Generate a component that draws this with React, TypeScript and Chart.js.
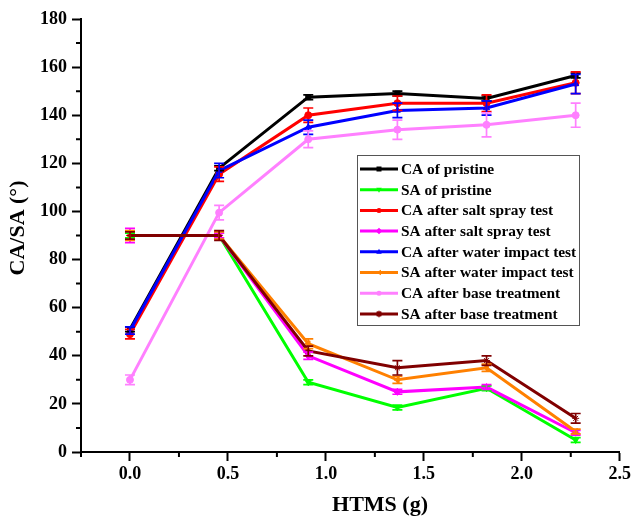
import React, { useEffect, useRef } from "react";
import { Chart, registerables } from "chart.js";

Chart.register(...registerables);

const xValues = [0, 0.455, 0.91, 1.365, 1.82, 2.275];
const xTicks = [0, 0.5, 1.0, 1.5, 2.0, 2.5];
const xMinorTicks = [-0.25, 0.25, 0.75, 1.25, 1.75, 2.25];
const yTicks = [0, 20, 40, 60, 80, 100, 120, 140, 160, 180];
const yMinorTicks = [10, 30, 50, 70, 90, 110, 130, 150, 170];

const seriesNames = [
  "CA of pristine",
  "SA of pristine",
  "CA after salt spray test",
  "SA after salt spray test",
  "CA after water impact test",
  "SA after water impact test",
  "CA after base treatment",
  "SA after base treatment",
];

const caPristine = [51, 118, 147.5, 149, 147, 156.5];
const saPristine = [90, 90, 29, 18.5, 26.5, 5];
const caSalt = [49, 115.5, 140, 145, 145, 153.5];
const saSalt = [90, 90, 40, 25, 27, 8];
const caWater = [50.5, 117, 135, 142, 143, 153];
const saWater = [90, 90, 45, 30, 35, 8.5];
const caBase = [30, 99.5, 130, 134, 136, 140];
const saBase = [90, 90, 42, 35, 38, 14];

const caPristineErr = [1, 1, 1, 1, 1, 1];
const saPristineErr = [1, 1, 1, 1, 1, 1];
const caSaltErr = [2, 3, 3, 3, 3.5, 4.5];
const saSaltErr = [3, 1, 1.5, 1, 1, 1];
const caWaterErr = [1.5, 3, 3, 3, 3, 4];
const saWaterErr = [2, 1.5, 2, 1.5, 1.5, 1];
const caBaseErr = [2, 3, 3.5, 4, 5, 5];
const saBaseErr = [1.5, 2, 2, 3, 2, 2];

const seriesValues = [caPristine, saPristine, caSalt, saSalt, caWater, saWater, caBase, saBase];
const seriesErrors = [caPristineErr, saPristineErr, caSaltErr, saSaltErr, caWaterErr, saWaterErr, caBaseErr, saBaseErr];
const seriesColors = ["#000000", "#00ff00", "#ff0000", "#ff00ff", "#0000ff", "#ff8000", "#ff80ff", "#800000"];
const seriesPointStyles = ["rect", "triangle", "circle", "rectRot", "triangle", "triangle", "circle", "star"];
const seriesRotations = [0, 180, 0, 0, 0, 270, 0, 0];

const FONT = "'Liberation Serif', 'Times New Roman', serif";

function drawMarker(ctx: CanvasRenderingContext2D, style: string, rot: number, x: number, y: number, r: number) {
  ctx.save();
  ctx.translate(x, y);
  ctx.rotate((rot * Math.PI) / 180);
  ctx.beginPath();
  if (style === "rect") {
    ctx.rect(-r, -r, 2 * r, 2 * r);
  } else if (style === "triangle") {
    ctx.moveTo(0, -r * 1.2);
    ctx.lineTo(r * 1.1, r * 0.8);
    ctx.lineTo(-r * 1.1, r * 0.8);
    ctx.closePath();
  } else if (style === "rectRot") {
    ctx.moveTo(0, -r * 1.3);
    ctx.lineTo(r * 1.3, 0);
    ctx.lineTo(0, r * 1.3);
    ctx.lineTo(-r * 1.3, 0);
    ctx.closePath();
  } else if (style === "star") {
    for (let k = 0; k < 4; k++) {
      const a = (k * Math.PI) / 4;
      ctx.moveTo(Math.cos(a) * r * 1.3, Math.sin(a) * r * 1.3);
      ctx.lineTo(-Math.cos(a) * r * 1.3, -Math.sin(a) * r * 1.3);
    }
    ctx.lineWidth = 1.5;
    ctx.stroke();
    ctx.restore();
    return;
  } else {
    ctx.arc(0, 0, r, 0, Math.PI * 2);
  }
  ctx.fill();
  ctx.restore();
}

const extrasPlugin = {
  id: "extras",
  afterDatasetsDraw(chart: any) {
    const ctx = chart.ctx;
    const xs = chart.scales.x;
    const ys = chart.scales.y;
    ctx.save();
    chart.data.datasets.forEach((ds: any, i: number) => {
      const errs = seriesErrors[i];
      ctx.strokeStyle = seriesColors[i];
      ctx.lineWidth = 1.7;
      ds.data.forEach((p: any, j: number) => {
        const px = xs.getPixelForValue(p.x);
        const yTop = ys.getPixelForValue(p.y + errs[j]);
        const yBot = ys.getPixelForValue(p.y - errs[j]);
        ctx.beginPath();
        ctx.moveTo(px, yTop);
        ctx.lineTo(px, yBot);
        ctx.moveTo(px - 5, yTop);
        ctx.lineTo(px + 5, yTop);
        ctx.moveTo(px - 5, yBot);
        ctx.lineTo(px + 5, yBot);
        ctx.stroke();
      });
    });
    ctx.restore();
  },
  afterDraw(chart: any) {
    const ctx = chart.ctx;
    const xs = chart.scales.x;
    const ys = chart.scales.y;
    const area = chart.chartArea;
    ctx.save();
    ctx.strokeStyle = "#000";
    ctx.lineWidth = 2;
    ctx.beginPath();
    yMinorTicks.forEach((v) => {
      const py = ys.getPixelForValue(v);
      ctx.moveTo(area.left - 5, py);
      ctx.lineTo(area.left, py);
    });
    xMinorTicks.forEach((v) => {
      const px = xs.getPixelForValue(v);
      ctx.moveTo(px, area.bottom);
      ctx.lineTo(px, area.bottom + 5);
    });
    ctx.stroke();

    ctx.fillStyle = "#000";
    ctx.font = `bold 22px ${FONT}`;
    ctx.textAlign = "center";
    ctx.textBaseline = "middle";
    ctx.fillText("HTMS (g)", 380, 505);
    ctx.save();
    ctx.translate(18, 228);
    ctx.rotate(-Math.PI / 2);
    ctx.fillText("CA/SA (°)", 0, 0);
    ctx.restore();

    const bx = 357, by = 155, bw = 222, bh = 170;
    ctx.fillStyle = "#fff";
    ctx.fillRect(bx, by, bw, bh);
    ctx.strokeStyle = "#555";
    ctx.lineWidth = 1;
    ctx.strokeRect(bx + 0.5, by + 0.5, bw, bh);
    ctx.font = `bold 15.4px ${FONT}`;
    ctx.textAlign = "left";
    ctx.textBaseline = "middle";
    seriesNames.forEach((name, i) => {
      const ry = 169 + i * 20.7;
      ctx.strokeStyle = seriesColors[i];
      ctx.lineWidth = 3;
      ctx.beginPath();
      ctx.moveTo(360, ry);
      ctx.lineTo(398, ry);
      ctx.stroke();
      ctx.fillStyle = seriesColors[i];
      ctx.strokeStyle = seriesColors[i];
      drawMarker(ctx, seriesPointStyles[i], seriesRotations[i], 379, ry, 2.5);
      ctx.fillStyle = "#000";
      ctx.fillText(name, 401, ry + 1);
    });
    ctx.restore();
  },
};

export default function App() {
  const ref = useRef<HTMLCanvasElement | null>(null);
  useEffect(() => {
    if (!ref.current) return;
    const datasets = seriesNames.map((name, i) => ({
      label: name,
      data: xValues.map((x, j) => ({ x, y: seriesValues[i][j] })),
      borderColor: seriesColors[i],
      backgroundColor: seriesColors[i],
      borderWidth: 3,
      pointStyle: seriesPointStyles[i] as any,
      rotation: seriesRotations[i],
      pointRadius: 3.5,
      pointBorderWidth: 1,
      tension: 0,
      order: seriesNames.length - i,
    }));
    const chart = new Chart(ref.current, {
      type: "line",
      data: { datasets },
      plugins: [extrasPlugin],
      options: {
        animation: false,
        responsive: false,
        layout: { padding: { top: 19, right: 13, left: 0, bottom: 0 } },
        plugins: { legend: { display: false }, tooltip: { enabled: false }, title: { display: false } },
        scales: {
          x: {
            type: "linear",
            min: -0.25,
            max: 2.5,
            afterBuildTicks: (s: any) => {
              s.ticks = xTicks.map((v) => ({ value: v }));
            },
            afterFit: (s: any) => {
              s.height = 66;
            },
            grid: { drawOnChartArea: false, drawTicks: true, tickLength: 9, tickWidth: 2, tickColor: "#000" },
            border: { display: true, color: "#000", width: 2 },
            ticks: {
              color: "#000",
              padding: 3,
              font: { family: FONT, size: 18, weight: "bold" },
              callback: (v: any) => Number(v).toFixed(1),
              maxRotation: 0,
            },
          },
          y: {
            type: "linear",
            min: 0,
            max: 180,
            afterBuildTicks: (s: any) => {
              s.ticks = yTicks.map((v) => ({ value: v }));
            },
            afterFit: (s: any) => {
              s.width = 81;
            },
            grid: { drawOnChartArea: false, drawTicks: true, tickLength: 9, tickWidth: 2, tickColor: "#000" },
            border: { display: true, color: "#000", width: 2 },
            ticks: {
              color: "#000",
              padding: 5,
              font: { family: FONT, size: 18, weight: "bold" },
              callback: (v: any) => String(v),
            },
          },
        },
      },
    });
    return () => chart.destroy();
  }, []);
  return (
    <canvas
      ref={ref}
      width={634}
      height={518}
      style={{ position: "absolute", left: 0, top: 0, width: 634, height: 518 }}
    />
  );
}
